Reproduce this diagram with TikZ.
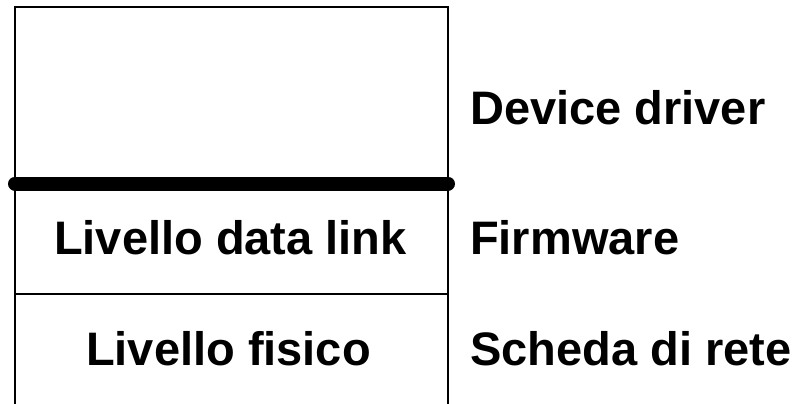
\documentclass[tikz,border=0pt]{standalone}
\usepackage{fontspec}
\setmainfont{Liberation Sans}
\begin{document}
\begin{tikzpicture}[x=1pt,y=-1pt,
  thin rule/.style={line width=2.2pt, line cap=butt},
  thick rule/.style={line width=14pt, line cap=round},
  label text/.style={font=\fontsize{47}{51}\selectfont\bfseries, inner sep=0pt}]
  \useasboundingbox (0,0) rectangle (800,404);
  % frame corners
  \coordinate (tl) at (15,7);
  \coordinate (tr) at (448,7);
  \coordinate (bl) at (15,404);
  \coordinate (br) at (448,404);
  \coordinate (ml) at (15,294);
  \coordinate (mr) at (448,294);
  \coordinate (kl) at (15,183.5);
  \coordinate (kr) at (448,183.5);
  % stack outline
  \draw[thin rule] (bl) -- (tl) -- (tr) -- (br);
  \draw[thin rule] (ml) -- (mr);
  \draw[thick rule] (kl) -- (kr);
  % layer names
  \node[label text, anchor=base] (dl) at (230.5,254.5) {Livello data link};
  \node[label text, anchor=base] (fis) at (228.5,365) {Livello fisico};
  % implementation side
  \node[label text, anchor=base west] (dd) at (470,124) {Device driver};
  \node[label text, anchor=base west] (fw) at (470,254.5) {Firmware};
  \node[label text, anchor=base west] (sr) at (470,365) {Scheda di rete};
\end{tikzpicture}
\end{document}
